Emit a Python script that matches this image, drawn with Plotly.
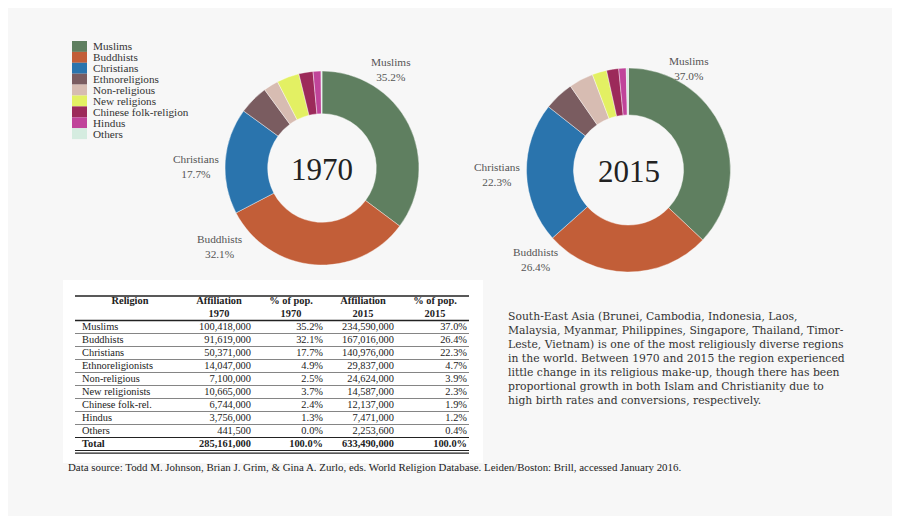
import plotly.graph_objects as go

W, H = 900, 516
OFF = 8  # page body margin: window pixel = figure pixel + OFF

# ---------------- data ----------------
legend_names = ["Muslims", "Buddhists", "Christians", "Ethnoreligions", "Non-religious",
                "New religions", "Chinese folk-religion", "Hindus", "Others"]
table_names = ["Muslims", "Buddhists", "Christians", "Ethnoreligionists", "Non-religious",
               "New religionists", "Chinese folk-rel.", "Hindus", "Others"]
colors = ["#5f7f60", "#c25e38", "#2a74ad", "#7a5c60", "#d7bcb2",
          "#e3f063", "#9c2a5a", "#c0449a", "#d5ece0"]
aff_1970 = [100418000, 91619000, 50371000, 14047000, 7100000, 10665000, 6744000, 3756000, 441500]
aff_2015 = [234590000, 167016000, 140976000, 29837000, 24624000, 14587000, 12137000, 7471000, 2253600]
pct_1970 = [35.2, 32.1, 17.7, 4.9, 2.5, 3.7, 2.4, 1.3, 0.0]
pct_2015 = [37.0, 26.4, 22.3, 4.7, 3.9, 2.3, 1.9, 1.2, 0.4]
total_1970 = 285161000
total_2015 = 633490000
headers = ["Religion<br>&nbsp;", "Affiliation<br>1970", "% of pop.<br>1970",
           "Affiliation<br>2015", "% of pop.<br>2015"]

paragraph = ("South-East Asia (Brunei, Cambodia, Indonesia, Laos,<br>"
             "Malaysia, Myanmar, Philippines, Singapore, Thailand, Timor-<br>"
             "Leste, Vietnam) is one of the most religiously diverse regions<br>"
             "in the world. Between 1970 and 2015 the region experienced<br>"
             "little change in its religious make-up, though there has been<br>"
             "proportional growth in both Islam and Christianity due to<br>"
             "high birth rates and conversions, respectively.")
source = ("Data source: Todd M. Johnson, Brian J. Grim, & Gina A. Zurlo, eds. World Religion "
          "Database. Leiden/Boston: Brill, accessed January 2016.")

SERIF = "Liberation Serif"


def px(x):
    return (x - OFF) / W


def py(y):
    return 1 - (y - OFF) / H


fig = go.Figure()

# ---------------- donuts ----------------
pies = [
    dict(vals=aff_1970, cx=322, cy=168, r=97, hole=0.56, year="1970"),
    dict(vals=aff_2015, cx=628.5, cy=170, r=102, hole=0.54, year="2015"),
]
for p in pies:
    fig.add_trace(go.Pie(
        labels=legend_names, values=p["vals"], sort=False, direction="clockwise",
        rotation=0, hole=p["hole"],
        marker=dict(colors=colors, line=dict(color="white", width=0.4)),
        textinfo="none", hoverinfo="label+percent", showlegend=False,
        domain=dict(x=[px(p["cx"] - p["r"]), px(p["cx"] + p["r"])],
                    y=[py(p["cy"] + p["r"]), py(p["cy"] - p["r"])]),
    ))

annotations = []
for p in pies:
    annotations.append(dict(x=px(p["cx"]), y=py(p["cy"] + 1), xref="paper", yref="paper",
                            xanchor="center", yanchor="middle",
                            text=p["year"], showarrow=False,
                            font=dict(family=SERIF, size=31, color="#222")))

# outside labels for the three largest slices
label_pos_1970 = {0: (391, 70), 1: (219, 247), 2: (196, 166)}
label_pos_2015 = {0: (689, 69), 1: (535, 259), 2: (497, 174)}
for pos, pcts in ((label_pos_1970, pct_1970), (label_pos_2015, pct_2015)):
    for i, (x, y) in pos.items():
        annotations.append(dict(x=px(x), y=py(y), xref="paper", yref="paper",
                                xanchor="center", yanchor="middle",
                                text=f"{legend_names[i]}<br>{pcts[i]:.1f}%",
                                showarrow=False, align="center",
                                font=dict(family=SERIF, size=11.3, color="#555")))

# ---------------- custom legend ----------------
shapes = []
lg_top, lg_step = 41, 10.9
for i, (name, c) in enumerate(zip(legend_names, colors)):
    y0 = lg_top + i * lg_step
    shapes.append(dict(type="rect", xref="paper", yref="paper",
                       x0=px(72), x1=px(87), y0=py(y0 + lg_step), y1=py(y0),
                       fillcolor=c, line=dict(width=0)))
    annotations.append(dict(x=px(91), y=py(y0 + lg_step / 2), xref="paper", yref="paper",
                            xanchor="left", yanchor="middle", text=name, showarrow=False,
                            font=dict(family=SERIF, size=11.2, color="#333")))

# ---------------- table (text traces on hidden pixel-scaled axes) ----------------
shapes.append(dict(type="rect", xref="paper", yref="paper", layer="below",
                   x0=px(63), x1=px(483), y0=py(463), y1=py(280),
                   fillcolor="white", line=dict(width=0)))

row0_c, row_h = 327, 13
col_anchor = [82, 251, 323, 394, 467]
col_align = ["middle right", "middle left", "middle left", "middle left", "middle left"]
head_center = [130, 219, 291, 363, 435]
head_y = 308

col_vals = [
    table_names + ["<b>Total</b>"],
    [f"{v:,}" for v in aff_1970] + [f"<b>{total_1970:,}</b>"],
    [f"{v:.1f}%" for v in pct_1970] + ["<b>100.0%</b>"],
    [f"{v:,}" for v in aff_2015] + [f"<b>{total_2015:,}</b>"],
    [f"{v:.1f}%" for v in pct_2015] + ["<b>100.0%</b>"],
]
n_rows = len(col_vals[0])
row_y = [row0_c + row_h * i for i in range(n_rows)]

for vals, xa, pos in zip(col_vals, col_anchor, col_align):
    fig.add_trace(go.Scatter(x=[xa] * n_rows, y=row_y, mode="text", text=vals,
                             textposition=pos, cliponaxis=False, hoverinfo="skip",
                             showlegend=False,
                             textfont=dict(family=SERIF, size=10.4, color="#222")))
fig.add_trace(go.Scatter(x=head_center, y=[head_y] * len(headers), mode="text",
                         text=[f"<b>{h}</b>" for h in headers], textposition="middle center",
                         cliponaxis=False, hoverinfo="skip", showlegend=False,
                         textfont=dict(family=SERIF, size=10.4, color="#222")))


def hline(y, w, color="#222"):
    shapes.append(dict(type="line", xref="x", yref="y", layer="above",
                       x0=75, x1=469, y0=y, y1=y, line=dict(color=color, width=w)))


hline(296, 1.6)
hline(row0_c - row_h / 2, 1.4)
for i in range(1, n_rows - 1):
    hline(row0_c - row_h / 2 + i * row_h, 0.8, "#666")
hline(row0_c - row_h / 2 + (n_rows - 1) * row_h, 1.2)
bottom = row0_c - row_h / 2 + n_rows * row_h
hline(bottom, 1.2)
hline(bottom + 2.6, 1.2)

# ---------------- text ----------------
annotations.append(dict(x=px(506), y=py(308), xref="paper", yref="paper",
                        xanchor="left", yanchor="top", align="left", text=paragraph,
                        showarrow=False, font=dict(family="DejaVu Serif", size=10.8, color="#333")))
annotations.append(dict(x=px(66), y=py(467), xref="paper", yref="paper",
                        xanchor="left", yanchor="middle", text=source, showarrow=False,
                        font=dict(family=SERIF, size=10.9, color="#222")))

fig.update_layout(
    width=W, height=H, margin=dict(l=0, r=0, t=0, b=0),
    paper_bgcolor="#f7f7f7", plot_bgcolor="rgba(0,0,0,0)",
    xaxis=dict(range=[OFF, OFF + W], visible=False, fixedrange=True),
    yaxis=dict(range=[OFF + H, OFF], visible=False, fixedrange=True),
    shapes=shapes, annotations=annotations, showlegend=False,
)

fig.write_html("out.html")
